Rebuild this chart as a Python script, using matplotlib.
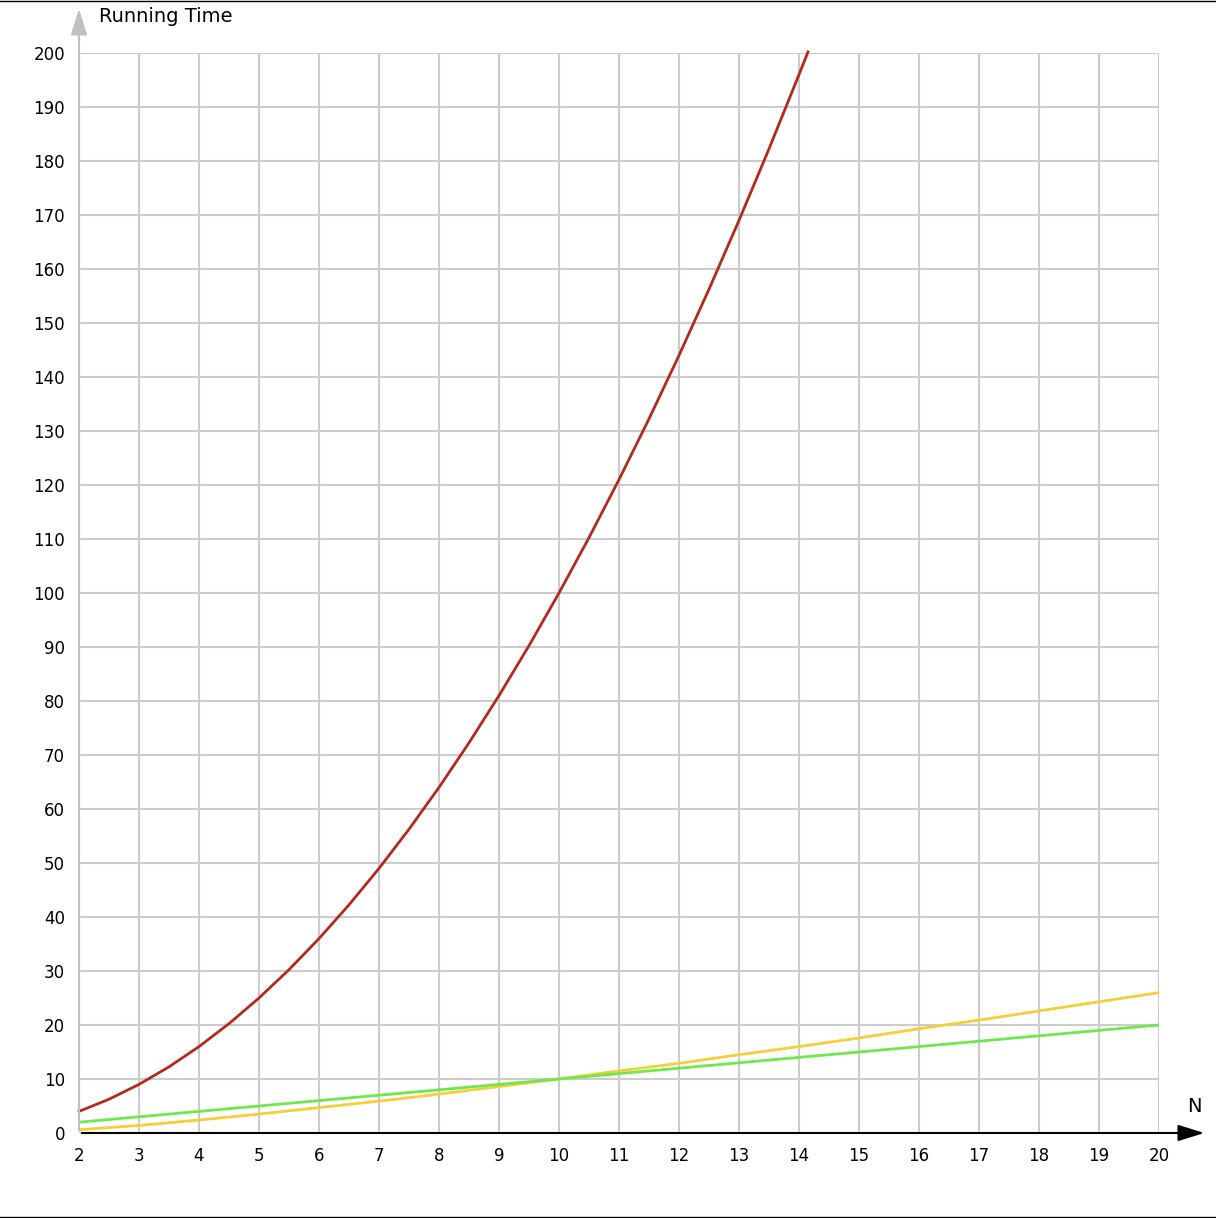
import matplotlib.pyplot as plt

# values
n_vals = [2, 2.5, 3, 3.5, 4, 4.5, 5, 5.5, 6, 6.5, 7, 7.5, 8, 8.5, 9, 9.5,
          10, 10.5, 11, 11.5, 12, 12.5, 13, 13.5, 14, 14.15]
quad_vals = [4, 6.25, 9, 12.25, 16, 20.25, 25, 30.25, 36, 42.25, 49, 56.25,
             64, 72.25, 81, 90.25, 100, 110.25, 121, 132.25, 144, 156.25,
             169, 182.25, 196, 200.2]
lin_n = [2, 20]
lin_vals = [2, 20]
nlog_n = [2, 3, 4, 5, 6, 7, 8, 9, 10, 11, 12, 13, 14, 15, 16, 17, 18, 19, 20]
nlog_vals = [0.6, 1.4, 2.4, 3.5, 4.7, 5.9, 7.2, 8.6, 10.0, 11.5, 12.9, 14.5,
             16.0, 17.6, 19.3, 20.9, 22.6, 24.3, 26.0]

W, H = 1216, 1218
fig = plt.figure(figsize=(W / 100, H / 100), dpi=100)
ax = fig.add_axes([79 / W, (H - 1133) / H, 1080 / W, 1080 / H])

ax.plot(nlog_n, nlog_vals, color="#f5cf3a", lw=2)
ax.plot(lin_n, lin_vals, color="#6ee84e", lw=2)
ax.plot(n_vals, quad_vals, color="#b22a1e", lw=2, clip_on=False)

ax.set_xlim(2, 20)
ax.set_ylim(0, 200)
ax.set_xticks(range(2, 21))
ax.set_yticks(range(0, 201, 10))
ax.grid(True, color="#cccccc", lw=1.5)
ax.set_axisbelow(True)
for s in ["top", "right", "bottom", "left"]:
    ax.spines[s].set_visible(False)
ax.tick_params(length=0, labelsize=12, pad=10)

# axes arrows
ax.annotate("", xy=(1207 / W, (H - 1133) / H), xytext=(79 / W, (H - 1133) / H),
            xycoords="figure fraction",
            arrowprops=dict(arrowstyle="-|>,head_length=0.8,head_width=0.25",
                            color="black", lw=1.5, mutation_scale=20))
ax.annotate("", xy=(79 / W, (H - 6) / H), xytext=(79 / W, (H - 1133) / H),
            xycoords="figure fraction",
            arrowprops=dict(arrowstyle="-|>,head_length=0.8,head_width=0.25",
                            color="#c0c0c0", lw=1.5, mutation_scale=20))
fig.text(99 / W, (H - 17) / H, "Running Time", fontsize=14, va="center")
fig.text(1194 / W, (H - 1106) / H, "N", fontsize=14, ha="center", va="center")

# frame lines top and bottom
fig.add_artist(plt.Line2D([0, 1], [1 - 1 / H, 1 - 1 / H], color="black", lw=1))
fig.add_artist(plt.Line2D([0, 1], [1 / H, 1 / H], color="black", lw=1))

fig.savefig("out.png", dpi=100, facecolor="white")
